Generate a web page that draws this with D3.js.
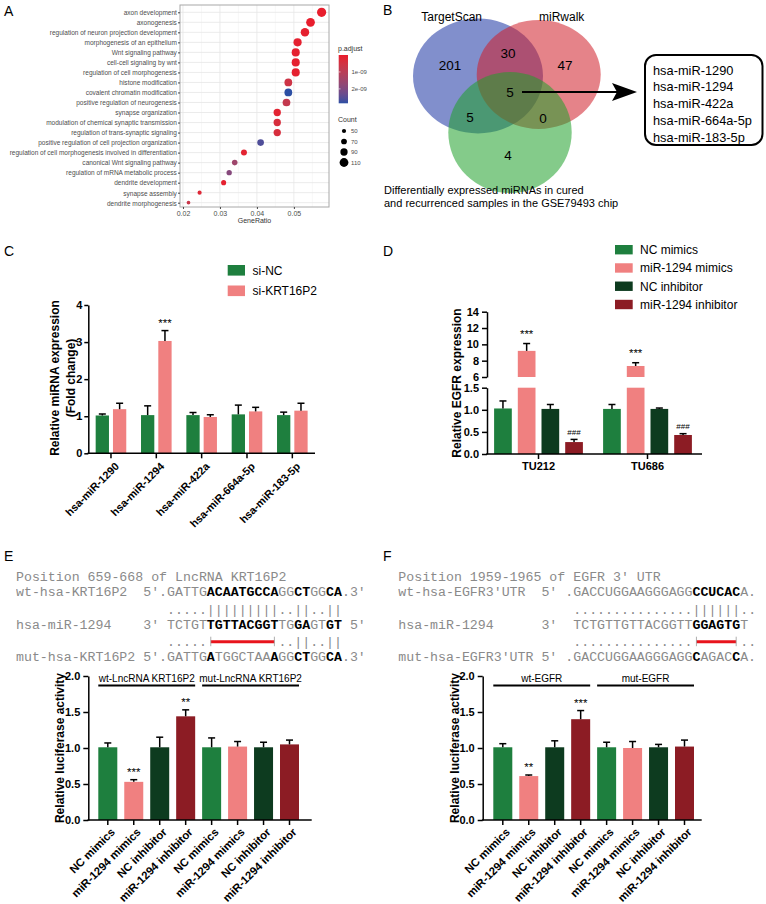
<!DOCTYPE html>
<html>
<head>
<meta charset="utf-8">
<script src="https://cdn.jsdelivr.net/npm/d3@7"></script>
<style>
body { margin: 0; background: #fff; }
</style>
</head>
<body>
<script>
// ---------- data ----------
// A: GO enrichment
var goTerms = ["axon development", "axonogenesis", "regulation of neuron projection development",
  "morphogenesis of an epithelium", "Wnt signaling pathway", "cell-cell signaling by wnt",
  "regulation of cell morphogenesis", "histone modification", "covalent chromatin modification",
  "positive regulation of neurogenesis", "synapse organization", "modulation of chemical synaptic transmission",
  "regulation of trans-synaptic signaling", "positive regulation of cell projection organization",
  "regulation of cell morphogenesis involved in differentiation", "canonical Wnt signaling pathway",
  "regulation of mRNA metabolic process", "dendrite development", "synapse assembly", "dendrite morphogenesis"];
var geneRatio = [0.0575, 0.0545, 0.053, 0.051, 0.0505, 0.0505, 0.0505, 0.0485, 0.0485, 0.048,
  0.0455, 0.0455, 0.0455, 0.041, 0.0365, 0.034, 0.0325, 0.031, 0.0245, 0.0215];
var goCount = [115, 109, 106, 102, 101, 101, 101, 97, 97, 96, 91, 91, 91, 82, 73, 68, 65, 62, 49, 43];
var goPadj = [0.05e-9, 0.05e-9, 0.1e-9, 0.1e-9, 0.1e-9, 0.1e-9, 0.1e-9, 0.6e-9, 2.85e-9, 0.8e-9,
  0.15e-9, 0.4e-9, 0.4e-9, 2.6e-9, 0.15e-9, 1.5e-9, 1.9e-9, 0.1e-9, 0.25e-9, 0.7e-9];
var ratioTicks = [0.02, 0.03, 0.04, 0.05];
var padjTicks = [1e-9, 2e-9];
var countKeys = [50, 70, 90, 110];

// B: venn
var vennSets = ["TargetScan", "miRwalk"];
var vennCounts = [201, 30, 47, 5, 5, 0, 4];
var vennCaption = ["Differentially expressed miRNAs in cured", "and recurrenced samples in the GSE79493 chip"];
var miRNAs = ["hsa-miR-1290", "hsa-miR-1294", "hsa-miR-422a", "hsa-miR-664a-5p", "hsa-miR-183-5p"];

// C: miRNA expression
var cSeries = ["si-NC", "si-KRT16P2"];
var siNC = [1.02, 1.03, 1.03, 1.05, 1.03];
var siNCerr = [0.04, 0.25, 0.07, 0.25, 0.08];
var siKRT = [1.19, 3.03, 0.98, 1.13, 1.15];
var siKRTerr = [0.16, 0.28, 0.06, 0.11, 0.2];
var cSig = ["", "***", "", "", ""];
var cTicks = [0, 1, 2, 3, 4];

// D: EGFR expression
var dGroups = ["TU212", "TU686"];
var dSeries = ["NC mimics", "miR-1294 mimics", "NC inhibitor", "miR-1294 inhibitor"];
var dValues = [[1.03, 1.02], [9.2, 7.35], [1.02, 1.02], [0.27, 0.43]];
var dErr = [[0.17, 0.1], [0.9, 0.4], [0.1, 0.02], [0.06, 0.03]];
var dSig = [["", ""], ["***", "***"], ["", ""], ["###", "###"]];
var dLowTicks = [0, 0.5, 1.0, 1.5];
var dHighTicks = [6, 8, 10, 12, 14];

// E / F: luciferase
var lucLabels = ["NC mimics", "miR-1294 mimics", "NC inhibitor", "miR-1294 inhibitor",
  "NC mimics", "miR-1294 mimics", "NC inhibitor", "miR-1294 inhibitor"];
var eValues = [1.01, 0.53, 1.01, 1.44, 1.01, 1.02, 1.01, 1.05];
var eErr = [0.06, 0.03, 0.14, 0.09, 0.13, 0.07, 0.07, 0.06];
var eSig = ["", "***", "", "**", "", "", "", ""];
var eBrackets = ["wt-LncRNA KRT16P2", "mut-LncRNA KRT16P2"];
var fValues = [1.01, 0.61, 1.01, 1.40, 1.01, 1.00, 1.01, 1.02];
var fErr = [0.05, 0.015, 0.09, 0.12, 0.07, 0.09, 0.04, 0.09];
var fSig = ["", "**", "", "***", "", "", "", ""];
var fBrackets = ["wt-EGFR", "mut-EGFR"];
var lucTicks = [0, 0.5, 1.0, 1.5, 2.0];

// sequences: [text, bold]
var eSeq = [
  [["Position 659-668 of LncRNA KRT16P2", 0]],
  [["wt-hsa-KRT16P2  5'.GATTG", 0], ["ACAATGCCA", 1], ["GG", 0], ["CT", 1], ["GG", 0], ["CA", 1], [".3'", 0]],
  [["                   .....|||||||||..||..||", 0]],
  [["hsa-miR-1294    3' TCTGT", 0], ["TGTTACGGT", 1], ["TG", 0], ["GA", 1], ["GT", 0], ["GT", 1], [" 5'", 0]],
  [["                   .....         ..||..||", 0]],
  [["mut-hsa-KRT16P2 5'.GATTG", 0], ["A", 1], ["TGGCTAA", 0], ["A", 1], ["GG", 0], ["CT", 1], ["GG", 0], ["CA", 1], [".3'", 0]]
];
var eSite = [24, 32];
var fSeq = [
  [["Position 1959-1965 of EGFR 3' UTR", 0]],
  [["wt-hsa-EGFR3'UTR  5' .GACCUGGAAGGGAGG", 0], ["CCUCAC", 1], ["A.", 0]],
  [["                      ...............||||||..", 0]],
  [["hsa-miR-1294      3'  TCTGTTGTTACGGTT", 0], ["GGAGTG", 1], ["T", 0]],
  [["                      ...............      ..", 0]],
  [["mut-hsa-EGFR3'UTR 5' .GACCUGGAAGGGAGG", 0], ["C", 1], ["AGAC", 0], ["C", 1], ["A.", 0]]
];
var fSite = [37, 42];

// colours
var cGreen = "#1e7f3e", cPink = "#f08080", cDkGreen = "#0d3b1f", cDkRed = "#8c1c24";
var SANS = "'Liberation Sans', Arial, sans-serif";
var MONO = "'Liberation Mono', 'Courier New', monospace";

var svg = d3.select("body").append("svg")
  .attr("width", 766).attr("height", 904)
  .style("font-family", SANS);

// panel letters
[["A", 4, 16], ["B", 383, 15], ["C", 4, 256], ["D", 383, 256], ["E", 4, 561], ["F", 383, 561]].forEach(function(p) {
  svg.append("text").attr("x", p[1]).attr("y", p[2]).attr("font-size", 14).text(p[0]);
});

function errBar(g, x, y0, y1, cap) {
  g.append("line").attr("x1", x).attr("x2", x).attr("y1", y0).attr("y2", y1)
    .attr("stroke", "#000").attr("stroke-width", 1.5);
  g.append("line").attr("x1", x - cap / 2).attr("x2", x + cap / 2).attr("y1", y1).attr("y2", y1)
    .attr("stroke", "#000").attr("stroke-width", 1.5);
}

function styleAxis(g, size) {
  g.selectAll("path,line").attr("stroke", "#000").attr("stroke-width", 1.5);
  g.selectAll("text").attr("font-size", size).attr("font-weight", "bold").attr("fill", "#000");
}

// ---------- A ----------
var a = svg.append("g");
var xA = d3.scaleLinear().domain([0.0192, 0.0595]).range([180, 329]);
var yA = d3.scalePoint().domain(goTerms).range([12.3, 202.7]);
var rA = d3.scaleLinear().domain([50, 110]).range([2.1, 4.4]);
var cA = d3.scaleLinear().domain([0, 2.85e-9]).range(["#ea1b2b", "#2c4fa4"]).interpolate(d3.interpolateLab);

a.append("rect").attr("x", 180).attr("y", 5).attr("width", 149).attr("height", 202).attr("fill", "#fff");
a.selectAll(".minor").data(ratioTicks.map(function(t) { return t + 0.005; })).enter().append("line")
  .attr("x1", function(d) { return xA(d); }).attr("x2", function(d) { return xA(d); })
  .attr("y1", 5).attr("y2", 207).attr("stroke", "#f4f4f4").attr("stroke-width", 0.6);
a.selectAll(".major").data(ratioTicks).enter().append("line")
  .attr("x1", function(d) { return xA(d); }).attr("x2", function(d) { return xA(d); })
  .attr("y1", 5).attr("y2", 207).attr("stroke", "#e6e6e6").attr("stroke-width", 0.8);
a.selectAll(".hgrid").data(goTerms).enter().append("line")
  .attr("x1", 180).attr("x2", 329)
  .attr("y1", function(d) { return yA(d); }).attr("y2", function(d) { return yA(d); })
  .attr("stroke", "#e6e6e6").attr("stroke-width", 0.8);
a.selectAll(".dot").data(goTerms).enter().append("circle")
  .attr("cx", function(d, i) { return xA(geneRatio[i]); })
  .attr("cy", function(d) { return yA(d); })
  .attr("r", function(d, i) { return rA(goCount[i]); })
  .attr("fill", function(d, i) { return cA(goPadj[i]); });
a.append("rect").attr("x", 180).attr("y", 5).attr("width", 149).attr("height", 202)
  .attr("fill", "none").attr("stroke", "#a8a8a8").attr("stroke-width", 1);

a.append("g").attr("transform", "translate(0,207)")
  .call(d3.axisBottom(xA).tickValues(ratioTicks).tickSize(2).tickSizeOuter(0).tickFormat(d3.format(".2f")))
  .call(function(g) {
    g.select(".domain").remove();
    g.selectAll("line").attr("stroke", "#444");
    g.selectAll("text").attr("font-size", 7).attr("fill", "#4d4d4d").attr("y", 4);
  });
a.append("g").attr("transform", "translate(180,0)")
  .call(d3.axisLeft(yA).tickSize(2).tickSizeOuter(0))
  .call(function(g) {
    g.select(".domain").remove();
    g.selectAll("line").attr("stroke", "#444");
    g.selectAll("text").attr("font-size", 7.3).attr("fill", "#4d4d4d").attr("x", -3.5)
      .attr("transform", "scale(0.895,1)");
  });
a.append("text").attr("x", 254.5).attr("y", 223).attr("text-anchor", "middle")
  .attr("font-size", 7).attr("fill", "#333").text("GeneRatio");

// colour legend
var grad = svg.append("defs").append("linearGradient").attr("id", "padj")
  .attr("x1", 0).attr("x2", 0).attr("y1", 0).attr("y2", 1);
d3.range(0, 1.0001, 0.1).forEach(function(t) {
  grad.append("stop").attr("offset", t).attr("stop-color", cA(t * 2.85e-9));
});
var yLeg = d3.scaleLinear().domain([0, 2.85e-9]).range([55, 103.3]);
a.append("text").attr("x", 338).attr("y", 51).attr("font-size", 7).attr("fill", "#333").text("p.adjust");
a.append("rect").attr("x", 338.7).attr("y", 55).attr("width", 9.3).attr("height", 48.3).attr("fill", "url(#padj)");
a.selectAll(".ptick").data(padjTicks).enter().append("line")
  .attr("x1", 338.7).attr("x2", 340.5).attr("y1", function(d) { return yLeg(d); }).attr("y2", function(d) { return yLeg(d); })
  .attr("stroke", "#fff").attr("stroke-width", 0.6);
a.selectAll(".plab").data(padjTicks).enter().append("text")
  .attr("x", 351.5).attr("y", function(d) { return yLeg(d) + 2.2; })
  .attr("font-size", 6).attr("fill", "#4d4d4d")
  .text(function(d) { return d3.format(".0e")(d).replace("e-9", "e-09"); });

var yCnt = d3.scalePoint().domain(countKeys).range([131, 162.5]);
a.append("text").attr("x", 338).attr("y", 122).attr("font-size", 7).attr("fill", "#333").text("Count");
a.selectAll(".ckey").data(countKeys).enter().append("circle")
  .attr("cx", 344).attr("cy", function(d) { return yCnt(d); }).attr("r", function(d) { return rA(d); }).attr("fill", "#000");
a.selectAll(".clab").data(countKeys).enter().append("text")
  .attr("x", 351).attr("y", function(d) { return yCnt(d) + 2.2; })
  .attr("font-size", 6).attr("fill", "#4d4d4d").text(function(d) { return d; });

// ---------- B ----------
var b = svg.append("g");
var ellipses = [
  { cx: 478, cy: 76, rx: 65, ry: 57.5, fill: "#1a33a3" },
  { cx: 538.7, cy: 74.5, rx: 62, ry: 54.5, fill: "#cf1e28" },
  { cx: 510, cy: 132.5, rx: 61.7, ry: 60.5, fill: "#1fa02a" }
];
b.selectAll("ellipse").data(ellipses).enter().append("ellipse")
  .attr("cx", function(d) { return d.cx; }).attr("cy", function(d) { return d.cy; })
  .attr("rx", function(d) { return d.rx; }).attr("ry", function(d) { return d.ry; })
  .attr("fill", function(d) { return d.fill; }).attr("fill-opacity", 0.55);
var setLabelPos = [[451.7, 21], [561.7, 21]];
b.selectAll(".setlab").data(vennSets).enter().append("text")
  .attr("x", function(d, i) { return setLabelPos[i][0]; }).attr("y", function(d, i) { return setLabelPos[i][1]; })
  .attr("text-anchor", "middle").attr("font-size", 12).text(function(d) { return d; });
var regionPos = [[450, 70], [508, 58], [565, 70], [510, 97], [470, 122], [543, 123], [508, 160]];
b.selectAll(".cnt").data(vennCounts).enter().append("text")
  .attr("x", function(d, i) { return regionPos[i][0]; }).attr("y", function(d, i) { return regionPos[i][1]; })
  .attr("text-anchor", "middle").attr("font-size", 13.5).text(function(d) { return d; });
b.selectAll(".cap").data(vennCaption).enter().append("text")
  .attr("x", 384).attr("y", function(d, i) { return 194 + i * 12.5; })
  .attr("font-size", 11).text(function(d) { return d; });
b.append("line").attr("x1", 522).attr("x2", 618).attr("y1", 92).attr("y2", 92).attr("stroke", "#000").attr("stroke-width", 2);
b.append("polygon").attr("points", "612,83 637,92 612,101 617,92").attr("fill", "#000");
b.append("rect").attr("x", 645).attr("y", 55).attr("width", 117.5).attr("height", 90).attr("rx", 11)
  .attr("fill", "#fff").attr("stroke", "#000").attr("stroke-width", 2);
var yBox = d3.scalePoint().domain(miRNAs).range([70, 137]);
b.selectAll(".mir").data(miRNAs).enter().append("text")
  .attr("x", 653).attr("y", function(d) { return yBox(d) + 4.6; })
  .attr("font-size", 12.8).text(function(d) { return d; });

// ---------- C ----------
var c = svg.append("g");
var xC = d3.scaleBand().domain(miRNAs).range([88.3, 315]);
var yC = d3.scaleLinear().domain([0, 4]).range([453.3, 305]);
var cBw = 13.3;
var cSeriesData = [[siNC, siNCerr, cGreen, -15.3], [siKRT, siKRTerr, cPink, 2]];
cSeriesData.forEach(function(s) {
  miRNAs.forEach(function(m, i) {
    var x0 = xC(m) + xC.bandwidth() / 2 + s[3];
    c.append("rect").attr("x", x0).attr("y", yC(s[0][i])).attr("width", cBw)
      .attr("height", yC(0) - yC(s[0][i])).attr("fill", s[2]);
    errBar(c, x0 + cBw / 2, yC(s[0][i]), yC(s[0][i] + s[1][i]), 7);
    if (s === cSeriesData[1] && cSig[i]) {
      c.append("text").attr("x", x0 + cBw / 2).attr("y", yC(s[0][i] + s[1][i]) - 3.5)
        .attr("text-anchor", "middle").attr("font-size", 11.5).text(cSig[i]);
    }
  });
});
c.append("g").attr("transform", "translate(88.3,0)")
  .call(d3.axisLeft(yC).tickValues(cTicks).tickSize(4).tickPadding(2).tickSizeOuter(0).tickFormat(d3.format("d")))
  .call(function(g) { styleAxis(g, 11); });
c.append("line").attr("x1", 87.5).attr("x2", 315).attr("y1", 453.3).attr("y2", 453.3).attr("stroke", "#000").attr("stroke-width", 1.5);
c.append("g").attr("transform", "translate(0,453.3)")
  .call(d3.axisBottom(xC).tickSize(5).tickSizeOuter(0))
  .call(function(g) {
    g.select(".domain").remove();
    styleAxis(g, 10.8);
    g.selectAll("text").attr("x", 0).attr("y", 0).attr("dy", "0.35em")
      .attr("text-anchor", "end").attr("transform", "translate(6,11) rotate(-45)");
  });
c.append("text").attr("transform", "translate(58.5,378) rotate(-90)").attr("text-anchor", "middle")
  .attr("font-size", 12).attr("font-weight", "bold").text("Relative miRNA expression");
c.append("text").attr("transform", "translate(75,378) rotate(-90)").attr("text-anchor", "middle")
  .attr("font-size", 12).attr("font-weight", "bold").text("(Fold change)");
var yCL = d3.scalePoint().domain(cSeries).range([270.3, 290.8]);
c.selectAll(".cleg").data(cSeries).enter().append("rect")
  .attr("x", 227.7).attr("y", function(d) { return yCL(d) - 5.3; }).attr("width", 17.3).attr("height", 10.6)
  .attr("fill", function(d, i) { return [cGreen, cPink][i]; });
c.selectAll(".clegt").data(cSeries).enter().append("text")
  .attr("x", 252.5).attr("y", function(d) { return yCL(d) + 4.4; }).attr("font-size", 12)
  .text(function(d) { return d; });

// ---------- D ----------
var dg = svg.append("g");
var xD = d3.scaleBand().domain(dGroups).range([484, 702]);
var yDlow = d3.scaleLinear().domain([0, 1.5]).range([454, 387.7]);
var yDhigh = d3.scaleLinear().domain([6, 14]).range([377, 311.7]);
function yD(v) { return v <= 1.5 ? yDlow(v) : yDhigh(v); }
var dColors = [cGreen, cPink, cDkGreen, cDkRed];
var dBw = 17.7, dStep = 23.7;
dSeries.forEach(function(s, si) {
  dGroups.forEach(function(gname, gi) {
    var v = dValues[si][gi], e = dErr[si][gi];
    var x0 = xD(gname) + xD.bandwidth() / 2 + (si - 1.5) * dStep - dBw / 2;
    if (v <= 1.5) {
      dg.append("rect").attr("x", x0).attr("y", yDlow(v)).attr("width", dBw)
        .attr("height", yDlow(0) - yDlow(v)).attr("fill", dColors[si]);
    } else {
      dg.append("rect").attr("x", x0).attr("y", yDlow(1.5)).attr("width", dBw)
        .attr("height", yDlow(0) - yDlow(1.5)).attr("fill", dColors[si]);
      dg.append("rect").attr("x", x0).attr("y", yDhigh(v)).attr("width", dBw)
        .attr("height", yDhigh(6) - yDhigh(v)).attr("fill", dColors[si]);
    }
    errBar(dg, x0 + dBw / 2, yD(v), yD(v + e), 7);
    var sig = dSig[si][gi];
    if (sig) {
      dg.append("text").attr("x", x0 + dBw / 2).attr("y", yD(v + e) - (sig[0] === "#" ? 4.5 : 5.5))
        .attr("text-anchor", "middle").attr("font-size", sig[0] === "#" ? 8 : 11.5).text(sig);
    }
  });
});
dg.append("g").attr("transform", "translate(487,0)")
  .call(d3.axisLeft(yDlow).tickValues(dLowTicks).tickSize(5).tickSizeOuter(0).tickFormat(d3.format(".1f")))
  .call(function(g) { styleAxis(g, 11); });
dg.append("g").attr("transform", "translate(487,0)")
  .call(d3.axisLeft(yDhigh).tickValues(dHighTicks).tickSize(5).tickSizeOuter(0).tickFormat(d3.format("d")))
  .call(function(g) { styleAxis(g, 11); });
dg.append("line").attr("x1", 486.2).attr("x2", 702).attr("y1", 454).attr("y2", 454).attr("stroke", "#000").attr("stroke-width", 1.5);
dg.append("g").attr("transform", "translate(0,454)")
  .call(d3.axisBottom(xD).tickSize(5).tickSizeOuter(0))
  .call(function(g) { g.select(".domain").remove(); styleAxis(g, 11); });
dg.append("text").attr("transform", "translate(461,383) rotate(-90)").attr("text-anchor", "middle")
  .attr("font-size", 12).attr("font-weight", "bold").text("Relative EGFR expression");
var yDL = d3.scalePoint().domain(dSeries).range([249.7, 304.5]);
dg.selectAll(".dleg").data(dSeries).enter().append("rect")
  .attr("x", 615).attr("y", function(d) { return yDL(d) - 4.7; }).attr("width", 17.7).attr("height", 9.4)
  .attr("fill", function(d, i) { return dColors[i]; });
dg.selectAll(".dlegt").data(dSeries).enter().append("text")
  .attr("x", 640).attr("y", function(d) { return yDL(d) + 4.4; }).attr("font-size", 12)
  .text(function(d) { return d; });

// ---------- sequences ----------
function drawSeq(lines, site, x0, cw) {
  var g = svg.append("g").style("font-family", MONO).attr("font-size", 13.25).attr("fill", "#8a8a8a")
    .style("opacity", 0.995);
  var ys = [580.5, 595.7, 614, 629, 645.7, 660.7];
  lines.forEach(function(segs, li) {
    var col = 0;
    var t = g.append("text").attr("y", ys[li]).attr("xml:space", "preserve").style("white-space", "pre");
    segs.forEach(function(s) {
      t.append("tspan").attr("x", x0 + col * cw)
        .attr("fill", s[1] ? "#000" : null).attr("font-weight", s[1] ? "bold" : null)
        .text(s[0]);
      col += s[0].length;
    });
  });
  var xa = x0 + (site[0] + 0.5) * cw, xb = x0 + (site[1] + 0.5) * cw, yb = 641.7;
  g.append("line").attr("x1", xa).attr("x2", xb).attr("y1", yb).attr("y2", yb)
    .attr("stroke", "#e8141c").attr("stroke-width", 3);
  [xa, xb].forEach(function(x) {
    g.append("line").attr("x1", x).attr("x2", x).attr("y1", yb - 5).attr("y2", yb + 4.5)
      .attr("stroke", "#999").attr("stroke-width", 0.8);
  });
}
drawSeq(eSeq, eSite, 16, 7.95);
drawSeq(fSeq, fSite, 398.3, 7.95);

// ---------- E / F luciferase ----------
function lucPanel(values, errs, sig, brackets, axisX, axisEnd, range) {
  var g = svg.append("g");
  var idx = d3.range(values.length);
  var x = d3.scaleBand().domain(idx).range(range).paddingInner(0.268).paddingOuter(0);
  var y = d3.scaleLinear().domain([0, 2]).range([820, 676]);
  var colors = [cGreen, cPink, cDkGreen, cDkRed, cGreen, cPink, cDkGreen, cDkRed];
  idx.forEach(function(i) {
    g.append("rect").attr("x", x(i)).attr("y", y(values[i])).attr("width", x.bandwidth())
      .attr("height", y(0) - y(values[i])).attr("fill", colors[i]);
    errBar(g, x(i) + x.bandwidth() / 2, y(values[i]), y(values[i] + errs[i]), 7);
    if (sig[i]) {
      g.append("text").attr("x", x(i) + x.bandwidth() / 2).attr("y", y(values[i] + errs[i]) - 4)
        .attr("text-anchor", "middle").attr("font-size", 11.5).text(sig[i]);
    }
  });
  g.append("g").attr("transform", "translate(" + axisX + ",0)")
    .call(d3.axisLeft(y).tickValues(lucTicks).tickSize(5).tickSizeOuter(0).tickFormat(d3.format(".1f")))
    .call(function(ax) { styleAxis(ax, 11); });
  g.append("line").attr("x1", axisX - 0.8).attr("x2", axisEnd).attr("y1", 820).attr("y2", 820)
    .attr("stroke", "#000").attr("stroke-width", 1.5);
  g.append("g").attr("transform", "translate(0,820)")
    .call(d3.axisBottom(x).tickSize(5).tickSizeOuter(0).tickFormat(function(i) { return lucLabels[i]; }))
    .call(function(ax) {
      ax.select(".domain").remove();
      styleAxis(ax, 11.3);
      ax.selectAll("text").attr("x", 0).attr("y", 0).attr("dy", "0.35em")
        .attr("text-anchor", "end").attr("transform", "translate(5,10) rotate(-45)");
    });
  brackets.forEach(function(label, k) {
    var xa = x(k * 4), xb = x(k * 4 + 3) + x.bandwidth();
    g.append("line").attr("x1", xa).attr("x2", xb).attr("y1", 685.5).attr("y2", 685.5)
      .attr("stroke", "#000").attr("stroke-width", 2);
    g.append("text").attr("x", (xa + xb) / 2).attr("y", 681.5).attr("text-anchor", "middle")
      .attr("font-size", 10).text(label);
  });
  g.append("text").attr("transform", "translate(" + (axisX - 24) + ",748) rotate(-90)").attr("text-anchor", "middle")
    .attr("font-size", 12).attr("font-weight", "bold").text("Relative luciferase activity");
}
lucPanel(eValues, eErr, eSig, eBrackets, 88.3, 311.7, [98.3, 299]);
lucPanel(fValues, fErr, fSig, fBrackets, 482.7, 701.7, [493.3, 694]);
</script>
</body>
</html>
